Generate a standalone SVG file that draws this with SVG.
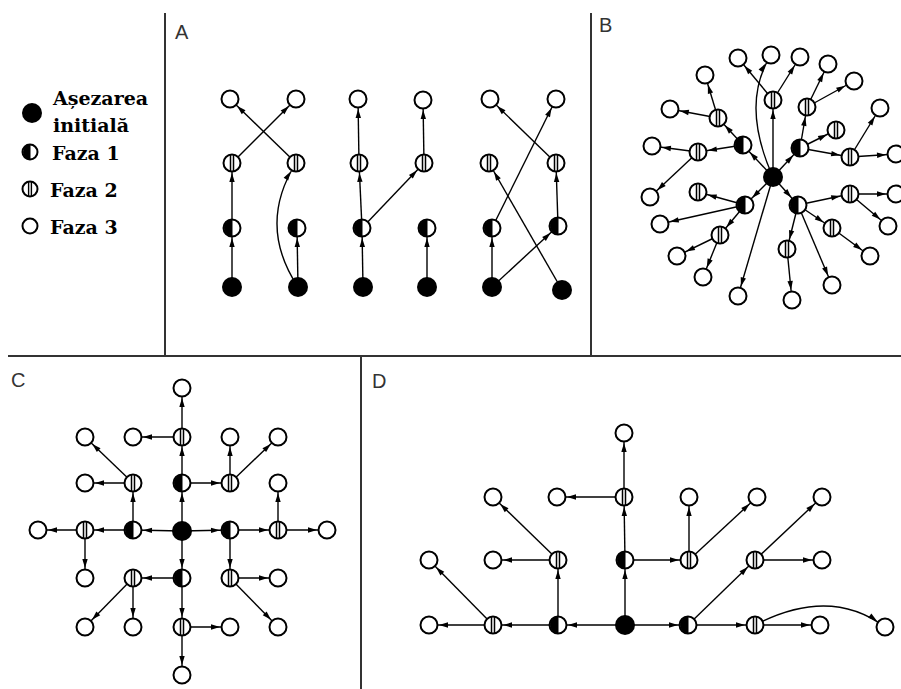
<svg xmlns="http://www.w3.org/2000/svg" xmlns:xlink="http://www.w3.org/1999/xlink" width="901" height="689" viewBox="0 0 901 689">
<style>
.e{stroke:#000;stroke-width:1.4;fill:none;marker-end:url(#ah)}
.div{stroke:#333;stroke-width:2;fill:none}
.lbl{font-family:"Liberation Sans",Arial,sans-serif;font-size:20px;fill:#333}
.leg{font-family:"DejaVu Serif","Liberation Serif",serif;font-weight:bold;font-size:19px;fill:#000}
.ring{fill:#fff;stroke:#000;stroke-width:2}
</style>
<defs>
<marker id="ah" markerUnits="userSpaceOnUse" markerWidth="10" markerHeight="7" refX="19" refY="3" orient="auto" overflow="visible">
<path d="M0,0.3 L9,3 L0,5.7 Z" fill="#000"/>
</marker>
<g id="s0"><circle r="10" fill="#000"/></g>
<g id="s1"><circle r="8.5" class="ring"/><path d="M0.5,-8.5 A8.5,8.5 0 0 0 0.5,8.5 Z" fill="#000"/></g>
<g id="s2"><circle r="8.5" class="ring"/><path d="M-1.5,-8.5 V8.5 M1.5,-8.5 V8.5" stroke="#000" stroke-width="1.5"/></g>
<g id="s3"><circle r="8.5" class="ring"/></g>
</defs>
<rect width="901" height="689" fill="#fff"/>

<g id="dividers">
<line class="div" x1="165" y1="13" x2="165" y2="356"/>
<line class="div" x1="591" y1="13" x2="591" y2="356"/>
<line class="div" x1="8" y1="356" x2="901" y2="356"/>
<line class="div" x1="361" y1="356" x2="361" y2="689"/>
</g>

<g id="labels">
<text class="lbl" x="175" y="39">A</text>
<text class="lbl" x="599" y="32">B</text>
<text class="lbl" x="11" y="387">C</text>
<text class="lbl" x="372" y="388">D</text>
</g>

<g id="legend">
<g id="leg-initial"><circle cx="32" cy="113" r="10" fill="#000"/><text class="leg" x="53" y="105">Așezarea</text><text class="leg" x="53" y="132">initială</text></g>
<g id="leg-f1"><circle cx="30" cy="152" r="7.5" class="ring"/><path d="M30.5,144.5 A7.5,7.5 0 0 0 30.5,159.5 Z" fill="#000"/><text class="leg" x="52" y="160">Faza 1</text></g>
<g id="leg-f2"><circle cx="30" cy="189" r="7.5" class="ring"/><path d="M28.6,181.5 V196.5 M31.4,181.5 V196.5" stroke="#000" stroke-width="1.4"/><text class="leg" x="50" y="197">Faza 2</text></g>
<g id="leg-f3"><circle cx="30" cy="226" r="7.5" class="ring"/><text class="leg" x="50" y="234">Faza 3</text></g>
</g>

<g id="connectors">
<!-- A -->
<line class="e" x1="232" y1="287" x2="232" y2="228"/>
<line class="e" x1="232" y1="228" x2="232" y2="163"/>
<line class="e" x1="232" y1="163" x2="296" y2="99"/>
<line class="e" x1="296" y1="163" x2="230" y2="99"/>
<line class="e" x1="298" y1="287" x2="297" y2="228"/>
<path class="e" d="M298,287 Q257,225 296,163"/>
<line class="e" x1="363" y1="287" x2="362" y2="228"/>
<line class="e" x1="362" y1="228" x2="359" y2="163"/>
<line class="e" x1="359" y1="163" x2="358" y2="99"/>
<line class="e" x1="362" y1="228" x2="424" y2="163"/>
<line class="e" x1="424" y1="163" x2="423" y2="100"/>
<line class="e" x1="427" y1="287" x2="427" y2="228"/>
<line class="e" x1="492" y1="287" x2="492" y2="228"/>
<line class="e" x1="492" y1="228" x2="556" y2="99"/>
<line class="e" x1="492" y1="287" x2="558" y2="226"/>
<line class="e" x1="558" y1="226" x2="556" y2="163"/>
<line class="e" x1="556" y1="163" x2="490" y2="99"/>
<line class="e" x1="562" y1="290" x2="489" y2="163"/>
<!-- B -->
<line class="e" x1="773" y1="177" x2="743" y2="145"/>
<line class="e" x1="773" y1="177" x2="800" y2="148"/>
<line class="e" x1="773" y1="177" x2="745" y2="205"/>
<line class="e" x1="773" y1="177" x2="798" y2="205"/>
<line class="e" x1="773" y1="177" x2="773" y2="100"/>
<path class="e" d="M773,177 Q740,104 771,55"/>
<line class="e" x1="773" y1="177" x2="738" y2="296"/>
<line class="e" x1="773" y1="100" x2="738" y2="58"/>
<line class="e" x1="773" y1="100" x2="800" y2="57"/>
<line class="e" x1="800" y1="148" x2="807" y2="107"/>
<line class="e" x1="807" y1="107" x2="828" y2="64"/>
<line class="e" x1="807" y1="107" x2="854" y2="81"/>
<line class="e" x1="800" y1="148" x2="836" y2="130"/>
<line class="e" x1="800" y1="148" x2="850" y2="157"/>
<line class="e" x1="850" y1="157" x2="896" y2="154"/>
<line class="e" x1="850" y1="157" x2="880" y2="108"/>
<line class="e" x1="743" y1="145" x2="718" y2="118"/>
<line class="e" x1="718" y1="118" x2="705" y2="75"/>
<line class="e" x1="718" y1="118" x2="670" y2="109"/>
<line class="e" x1="743" y1="145" x2="698" y2="152"/>
<line class="e" x1="698" y1="152" x2="652" y2="146"/>
<line class="e" x1="698" y1="152" x2="650" y2="197"/>
<line class="e" x1="745" y1="205" x2="698" y2="192"/>
<line class="e" x1="745" y1="205" x2="660" y2="224"/>
<line class="e" x1="745" y1="205" x2="720" y2="235"/>
<line class="e" x1="720" y1="235" x2="677" y2="256"/>
<line class="e" x1="720" y1="235" x2="703" y2="277"/>
<line class="e" x1="798" y1="205" x2="850" y2="194"/>
<line class="e" x1="850" y1="194" x2="896" y2="194"/>
<line class="e" x1="850" y1="194" x2="888" y2="226"/>
<line class="e" x1="798" y1="205" x2="832" y2="228"/>
<line class="e" x1="832" y1="228" x2="870" y2="256"/>
<line class="e" x1="798" y1="205" x2="787" y2="249"/>
<line class="e" x1="787" y1="249" x2="792" y2="300"/>
<line class="e" x1="798" y1="205" x2="832" y2="285"/>
<!-- C -->
<line class="e" x1="182" y1="531" x2="182" y2="483"/>
<line class="e" x1="182" y1="483" x2="182" y2="437"/>
<line class="e" x1="182" y1="437" x2="182" y2="388"/>
<line class="e" x1="182" y1="437" x2="133" y2="437"/>
<line class="e" x1="182" y1="483" x2="230" y2="483"/>
<line class="e" x1="230" y1="483" x2="230" y2="437"/>
<line class="e" x1="230" y1="483" x2="278" y2="437"/>
<line class="e" x1="182" y1="531" x2="133" y2="530"/>
<line class="e" x1="133" y1="530" x2="133" y2="483"/>
<line class="e" x1="133" y1="483" x2="85" y2="483"/>
<line class="e" x1="133" y1="483" x2="85" y2="437"/>
<line class="e" x1="133" y1="530" x2="85" y2="530"/>
<line class="e" x1="85" y1="530" x2="38" y2="530"/>
<line class="e" x1="85" y1="530" x2="85" y2="578"/>
<line class="e" x1="182" y1="531" x2="230" y2="530"/>
<line class="e" x1="230" y1="530" x2="278" y2="530"/>
<line class="e" x1="278" y1="530" x2="327" y2="530"/>
<line class="e" x1="278" y1="530" x2="278" y2="483"/>
<line class="e" x1="230" y1="530" x2="230" y2="578"/>
<line class="e" x1="230" y1="578" x2="278" y2="578"/>
<line class="e" x1="230" y1="578" x2="278" y2="627"/>
<line class="e" x1="182" y1="531" x2="182" y2="578"/>
<line class="e" x1="182" y1="578" x2="133" y2="578"/>
<line class="e" x1="133" y1="578" x2="85" y2="627"/>
<line class="e" x1="133" y1="578" x2="133" y2="627"/>
<line class="e" x1="182" y1="578" x2="182" y2="627"/>
<line class="e" x1="182" y1="627" x2="230" y2="627"/>
<line class="e" x1="182" y1="627" x2="182" y2="675"/>
<!-- D -->
<line class="e" x1="625" y1="625" x2="558" y2="625"/>
<line class="e" x1="558" y1="625" x2="493" y2="625"/>
<line class="e" x1="493" y1="625" x2="429" y2="625"/>
<line class="e" x1="493" y1="625" x2="429" y2="560"/>
<line class="e" x1="558" y1="625" x2="558" y2="560"/>
<line class="e" x1="558" y1="560" x2="493" y2="560"/>
<line class="e" x1="558" y1="560" x2="493" y2="497"/>
<line class="e" x1="625" y1="625" x2="625" y2="560"/>
<line class="e" x1="625" y1="560" x2="624" y2="497"/>
<line class="e" x1="624" y1="497" x2="624" y2="433"/>
<line class="e" x1="624" y1="497" x2="557" y2="497"/>
<line class="e" x1="625" y1="560" x2="689" y2="560"/>
<line class="e" x1="689" y1="560" x2="689" y2="497"/>
<line class="e" x1="689" y1="560" x2="757" y2="497"/>
<line class="e" x1="625" y1="625" x2="688" y2="625"/>
<line class="e" x1="688" y1="625" x2="755" y2="625"/>
<line class="e" x1="755" y1="625" x2="820" y2="625"/>
<path class="e" d="M755,625 Q830,586 885,627"/>
<line class="e" x1="688" y1="625" x2="755" y2="560"/>
<line class="e" x1="755" y1="560" x2="822" y2="560"/>
<line class="e" x1="755" y1="560" x2="822" y2="497"/>
</g>

<g id="nodes-A">
<g id="A-t1"><use href="#s3" x="230" y="99"/></g>
<g id="A-t2"><use href="#s3" x="296" y="99"/></g>
<g id="A-t3"><use href="#s3" x="358" y="99"/></g>
<g id="A-t4"><use href="#s3" x="423" y="100"/></g>
<g id="A-t5"><use href="#s3" x="490" y="99"/></g>
<g id="A-t6"><use href="#s3" x="556" y="99"/></g>
<g id="A-f2-1"><use href="#s2" x="232" y="163"/></g>
<g id="A-f2-2"><use href="#s2" x="296" y="163"/></g>
<g id="A-f2-3"><use href="#s2" x="359" y="163"/></g>
<g id="A-f2-4"><use href="#s2" x="424" y="163"/></g>
<g id="A-f2-5"><use href="#s2" x="489" y="163"/></g>
<g id="A-f2-6"><use href="#s2" x="556" y="163"/></g>
<g id="A-f1-1"><use href="#s1" x="232" y="228"/></g>
<g id="A-f1-2"><use href="#s1" x="297" y="228"/></g>
<g id="A-f1-3"><use href="#s1" x="362" y="228"/></g>
<g id="A-f1-4"><use href="#s1" x="427" y="228"/></g>
<g id="A-f1-5"><use href="#s1" x="492" y="228"/></g>
<g id="A-f1-6"><use href="#s1" x="558" y="226"/></g>
<g id="A-i1"><use href="#s0" x="232" y="287"/></g>
<g id="A-i2"><use href="#s0" x="298" y="287"/></g>
<g id="A-i3"><use href="#s0" x="363" y="287"/></g>
<g id="A-i4"><use href="#s0" x="427" y="287"/></g>
<g id="A-i5"><use href="#s0" x="492" y="287"/></g>
<g id="A-i6"><use href="#s0" x="562" y="290"/></g>
</g>

<g id="nodes-B">
<g id="B-c"><use href="#s0" x="773" y="177"/></g>
<g id="B-f1-nw"><use href="#s1" x="743" y="145"/></g>
<g id="B-f1-ne"><use href="#s1" x="800" y="148"/></g>
<g id="B-f1-sw"><use href="#s1" x="745" y="205"/></g>
<g id="B-f1-se"><use href="#s1" x="798" y="205"/></g>
<g id="B-f2-a"><use href="#s2" x="773" y="100"/></g>
<g id="B-f2-b"><use href="#s2" x="807" y="107"/></g>
<g id="B-f2-c"><use href="#s2" x="836" y="130"/></g>
<g id="B-f2-d"><use href="#s2" x="850" y="157"/></g>
<g id="B-f2-e"><use href="#s2" x="718" y="118"/></g>
<g id="B-f2-f"><use href="#s2" x="698" y="152"/></g>
<g id="B-f2-g"><use href="#s2" x="698" y="192"/></g>
<g id="B-f2-h"><use href="#s2" x="720" y="235"/></g>
<g id="B-f2-i"><use href="#s2" x="850" y="194"/></g>
<g id="B-f2-j"><use href="#s2" x="832" y="228"/></g>
<g id="B-f2-k"><use href="#s2" x="787" y="249"/></g>
<g id="B-o1"><use href="#s3" x="738" y="58"/></g>
<g id="B-o2"><use href="#s3" x="771" y="55"/></g>
<g id="B-o3"><use href="#s3" x="800" y="57"/></g>
<g id="B-o4"><use href="#s3" x="828" y="64"/></g>
<g id="B-o5"><use href="#s3" x="854" y="81"/></g>
<g id="B-o6"><use href="#s3" x="880" y="108"/></g>
<g id="B-o7"><use href="#s3" x="896" y="154"/></g>
<g id="B-o8"><use href="#s3" x="896" y="194"/></g>
<g id="B-o9"><use href="#s3" x="888" y="226"/></g>
<g id="B-o10"><use href="#s3" x="870" y="256"/></g>
<g id="B-o11"><use href="#s3" x="832" y="285"/></g>
<g id="B-o12"><use href="#s3" x="792" y="300"/></g>
<g id="B-o13"><use href="#s3" x="738" y="296"/></g>
<g id="B-o14"><use href="#s3" x="703" y="277"/></g>
<g id="B-o15"><use href="#s3" x="677" y="256"/></g>
<g id="B-o16"><use href="#s3" x="660" y="224"/></g>
<g id="B-o17"><use href="#s3" x="650" y="197"/></g>
<g id="B-o18"><use href="#s3" x="652" y="146"/></g>
<g id="B-o19"><use href="#s3" x="670" y="109"/></g>
<g id="B-o20"><use href="#s3" x="705" y="75"/></g>
</g>

<g id="nodes-C">
<g id="C-o-top"><use href="#s3" x="182" y="388"/></g>
<g id="C-f2-n"><use href="#s2" x="182" y="437"/></g>
<g id="C-o-n1"><use href="#s3" x="133" y="437"/></g>
<g id="C-o-nw"><use href="#s3" x="85" y="437"/></g>
<g id="C-o-ne1"><use href="#s3" x="230" y="437"/></g>
<g id="C-o-ne2"><use href="#s3" x="278" y="437"/></g>
<g id="C-o-w1"><use href="#s3" x="85" y="483"/></g>
<g id="C-f2-nw"><use href="#s2" x="133" y="483"/></g>
<g id="C-f1-n"><use href="#s1" x="182" y="483"/></g>
<g id="C-f2-ne"><use href="#s2" x="230" y="483"/></g>
<g id="C-o-e1"><use href="#s3" x="278" y="483"/></g>
<g id="C-o-w"><use href="#s3" x="38" y="530"/></g>
<g id="C-f2-w"><use href="#s2" x="85" y="530"/></g>
<g id="C-f1-w"><use href="#s1" x="133" y="530"/></g>
<g id="C-i"><use href="#s0" x="182" y="531"/></g>
<g id="C-f1-e"><use href="#s1" x="230" y="530"/></g>
<g id="C-f2-e"><use href="#s2" x="278" y="530"/></g>
<g id="C-o-e"><use href="#s3" x="327" y="530"/></g>
<g id="C-o-sw1"><use href="#s3" x="85" y="578"/></g>
<g id="C-f2-sw"><use href="#s2" x="133" y="578"/></g>
<g id="C-f1-s"><use href="#s1" x="182" y="578"/></g>
<g id="C-f2-se"><use href="#s2" x="230" y="578"/></g>
<g id="C-o-se1"><use href="#s3" x="278" y="578"/></g>
<g id="C-o-sw2"><use href="#s3" x="85" y="627"/></g>
<g id="C-o-sw3"><use href="#s3" x="133" y="627"/></g>
<g id="C-f2-s"><use href="#s2" x="182" y="627"/></g>
<g id="C-o-s1"><use href="#s3" x="230" y="627"/></g>
<g id="C-o-se2"><use href="#s3" x="278" y="627"/></g>
<g id="C-o-bot"><use href="#s3" x="182" y="675"/></g>
</g>

<g id="nodes-D">
<g id="D-o-top"><use href="#s3" x="624" y="433"/></g>
<g id="D-f2-c"><use href="#s2" x="624" y="497"/></g>
<g id="D-o1"><use href="#s3" x="493" y="497"/></g>
<g id="D-o2"><use href="#s3" x="557" y="497"/></g>
<g id="D-o3"><use href="#s3" x="689" y="497"/></g>
<g id="D-o4"><use href="#s3" x="757" y="497"/></g>
<g id="D-o5"><use href="#s3" x="822" y="497"/></g>
<g id="D-o6"><use href="#s3" x="429" y="560"/></g>
<g id="D-o7"><use href="#s3" x="493" y="560"/></g>
<g id="D-f2-l"><use href="#s2" x="558" y="560"/></g>
<g id="D-f1-c"><use href="#s1" x="625" y="560"/></g>
<g id="D-f2-m"><use href="#s2" x="689" y="560"/></g>
<g id="D-f2-r"><use href="#s2" x="755" y="560"/></g>
<g id="D-o8"><use href="#s3" x="822" y="560"/></g>
<g id="D-o9"><use href="#s3" x="429" y="625"/></g>
<g id="D-f2-ll"><use href="#s2" x="493" y="625"/></g>
<g id="D-f1-l"><use href="#s1" x="558" y="625"/></g>
<g id="D-i"><use href="#s0" x="625" y="625"/></g>
<g id="D-f1-r"><use href="#s1" x="688" y="625"/></g>
<g id="D-f2-rr"><use href="#s2" x="755" y="625"/></g>
<g id="D-o10"><use href="#s3" x="820" y="625"/></g>
<g id="D-o11"><use href="#s3" x="885" y="627"/></g>
</g>
</svg>
